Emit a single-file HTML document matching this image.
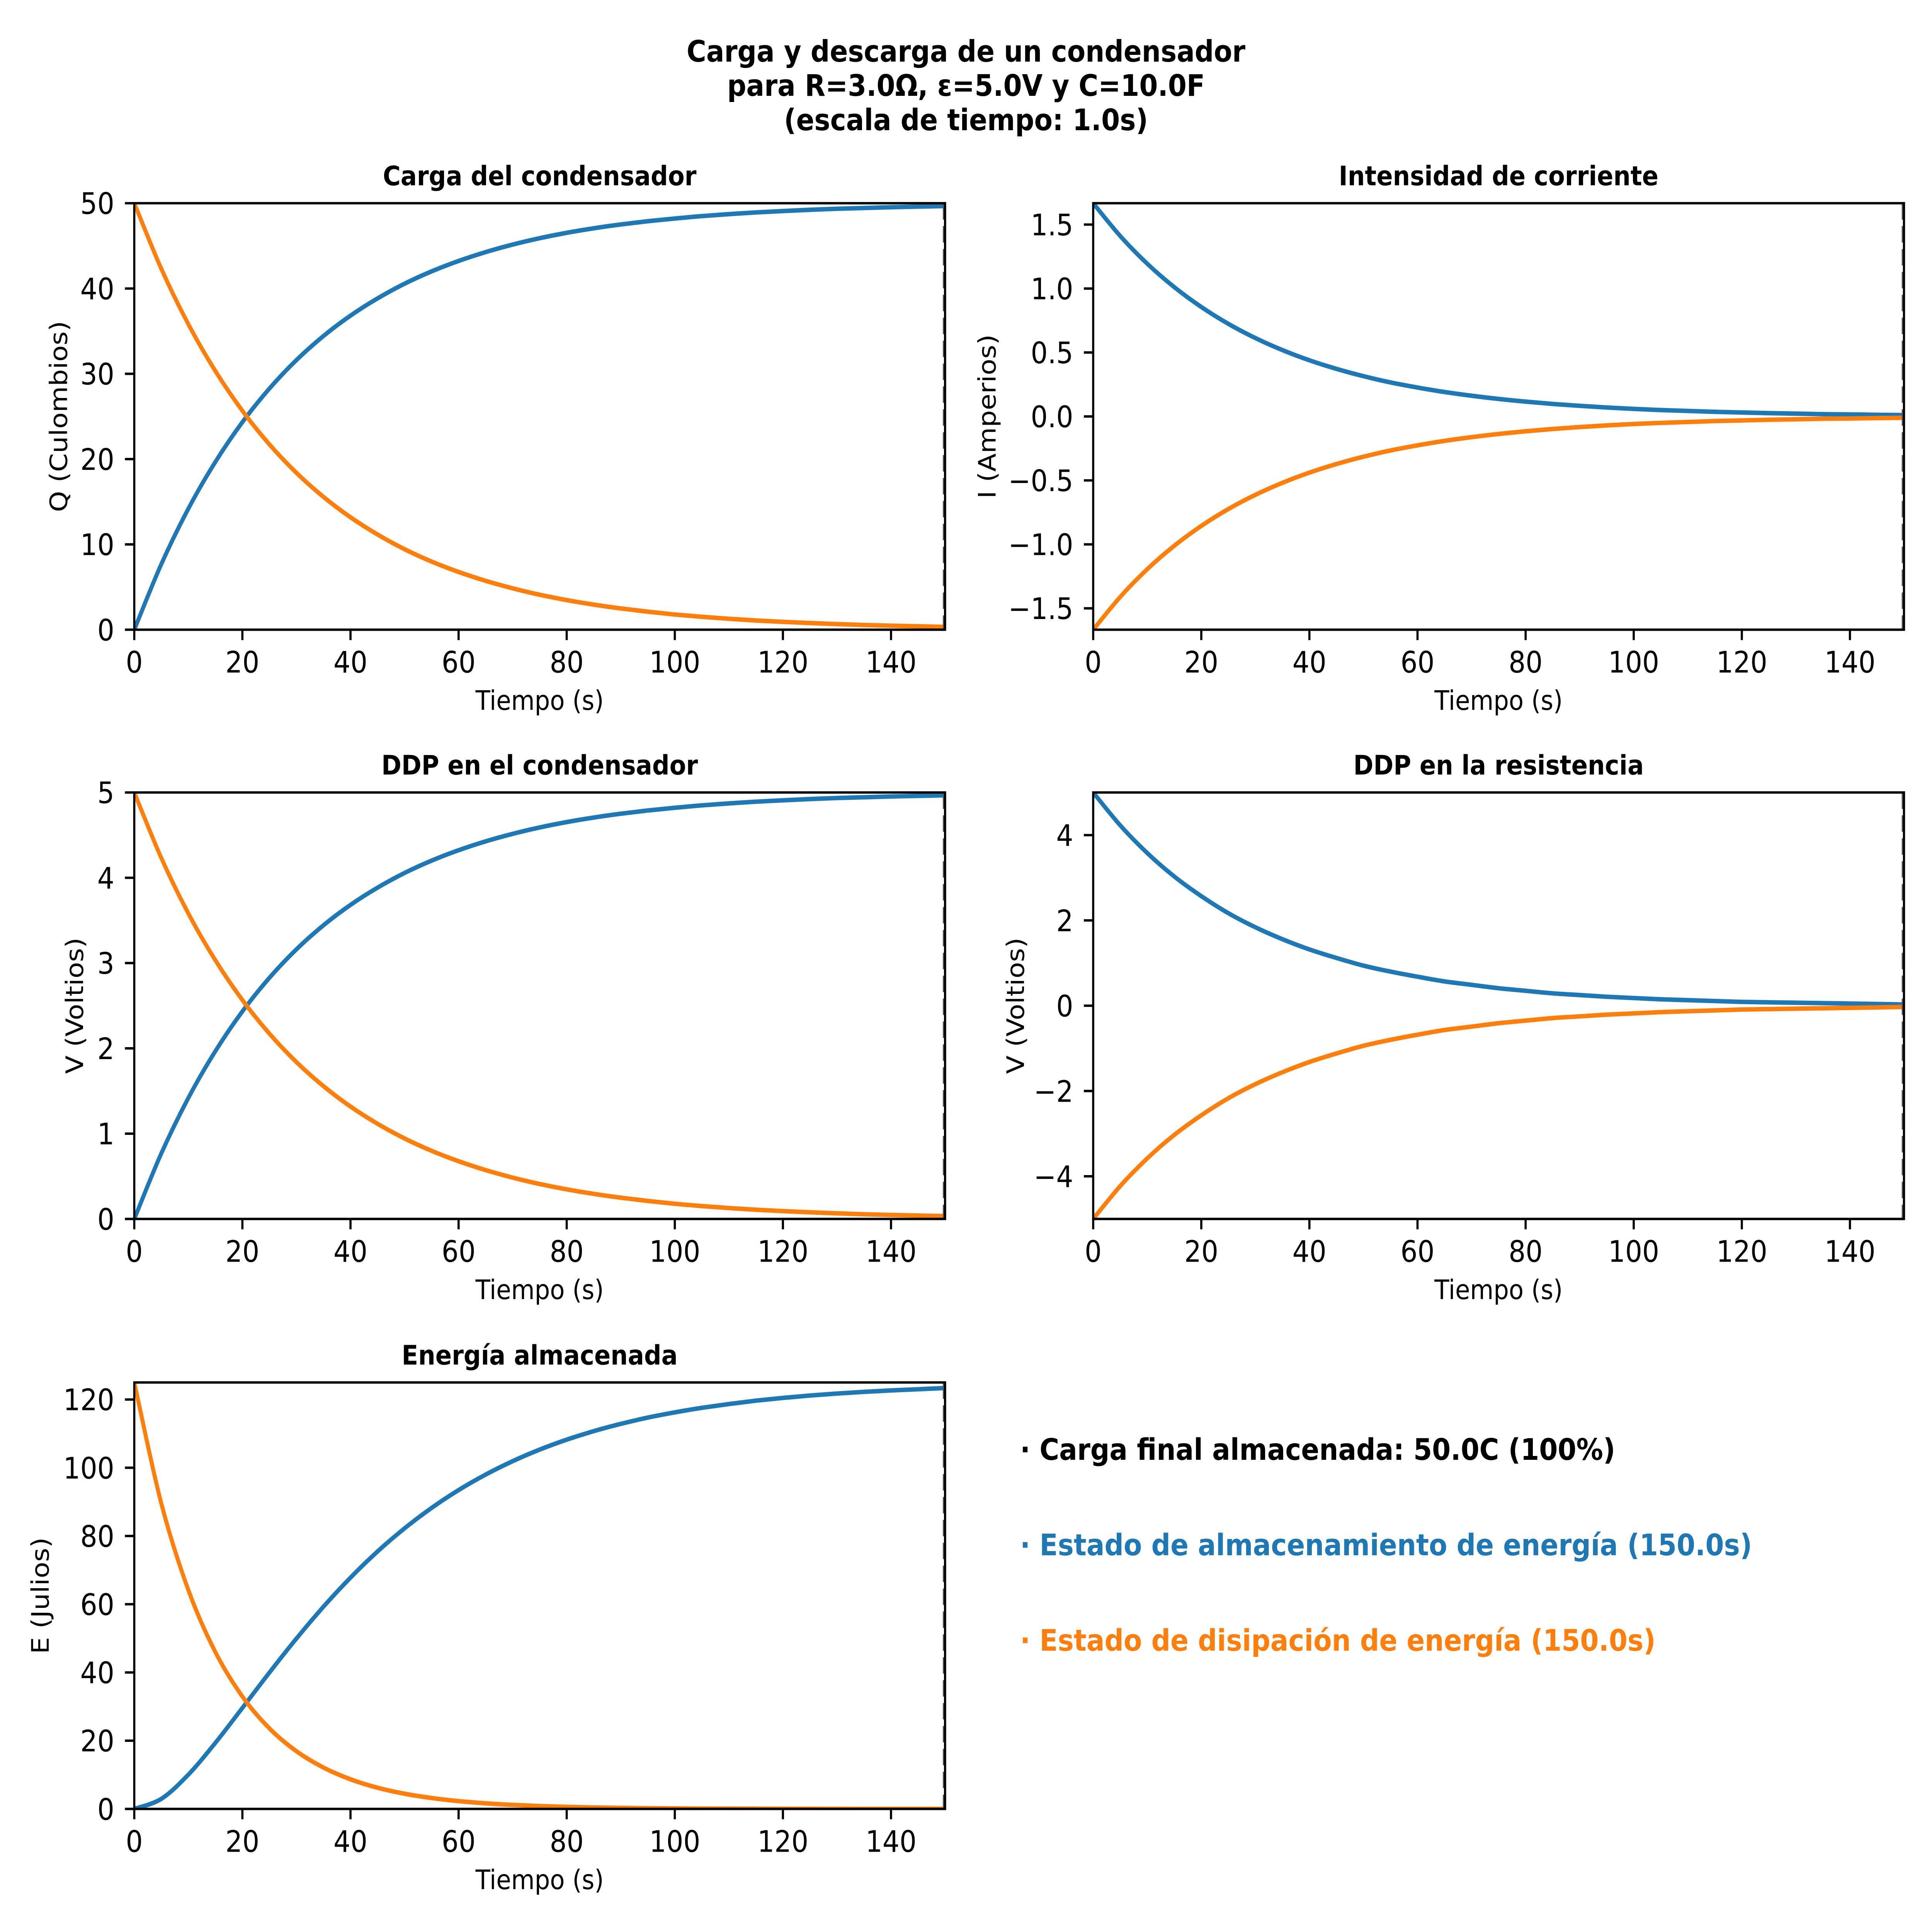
<!DOCTYPE html>
<html><head><meta charset="utf-8"><style>
html,body{margin:0;padding:0;background:#fff;width:100%;height:100%;overflow:hidden;}
svg{display:block;width:100vw;height:100vh;font-family:"DejaVu Sans","Liberation Sans",sans-serif;}
</style></head><body>
<svg id="fig" xmlns="http://www.w3.org/2000/svg" viewBox="0 0 6000 5400" preserveAspectRatio="none" overflow="hidden">
<rect width="6000" height="5400" fill="#fff"/>
<g font-weight="bold" font-size="83" text-anchor="middle">
<text x="3000" y="172">Carga y descarga de un condensador</text>
<text x="3000" y="268">para R=3.0Ω, ε=5.0V y C=10.0F</text>
<text x="3000" y="364">(escala de tiempo: 1.0s)</text>
</g>
<g font-weight="bold" font-size="83">
<text x="3168" y="4080" fill="#000">· Carga final almacenada: 50.0C (100%)</text>
<text x="3168" y="4347" fill="#1f77b4">· Estado de almacenamiento de energía (150.0s)</text>
<text x="3168" y="4614" fill="#ff7f0e">· Estado de disipación de energía (150.0s)</text>
</g>
<g id="plots"></g>
</svg>
<script>
// Shared time samples (s)
const times = [0,5,10,15,20,25,30,35,40,45,50,55,60,65,70,75,80,85,90,95,100,105,110,115,120,125,130,135,140,145,149.5];
const xTicks = [0,20,40,60,80,100,120,140];
// Charge (C)
const qCharge = [0,7.68,14.18,19.67,24.33,28.27,31.61,34.43,36.82,38.84,40.56,42.01,43.23,44.27,45.15,45.90,46.53,47.06,47.51,47.89,48.21,48.49,48.72,48.92,49.08,49.23,49.35,49.44,49.53,49.60,49.66];
const qDischarge = [50,42.32,35.82,30.33,25.67,21.73,18.39,15.57,13.18,11.16,9.44,7.99,6.77,5.73,4.85,4.10,3.47,2.94,2.49,2.11,1.78,1.51,1.28,1.08,0.92,0.78,0.66,0.55,0.47,0.40,0.34];
const qTicks = [0,10,20,30,40,50];
// Current (A)
const iCharge = [1.667,1.411,1.194,1.011,0.856,0.724,0.613,0.519,0.439,0.372,0.315,0.266,0.226,0.191,0.162,0.137,0.116,0.098,0.083,0.070,0.059,0.050,0.043,0.036,0.031,0.026,0.022,0.018,0.016,0.013,0.011];
const iDischarge = [-1.667,-1.411,-1.194,-1.011,-0.856,-0.724,-0.613,-0.519,-0.439,-0.372,-0.315,-0.266,-0.226,-0.191,-0.162,-0.137,-0.116,-0.098,-0.083,-0.070,-0.059,-0.050,-0.043,-0.036,-0.031,-0.026,-0.022,-0.018,-0.016,-0.013,-0.011];
const iTicks = [-1.5,-1.0,-0.5,0.0,0.5,1.0,1.5];
// Capacitor voltage (V)
const vcCharge = [0,0.768,1.418,1.967,2.433,2.827,3.161,3.443,3.682,3.884,4.056,4.201,4.323,4.427,4.515,4.590,4.653,4.706,4.751,4.789,4.821,4.849,4.872,4.892,4.908,4.923,4.935,4.944,4.953,4.960,4.966];
const vcDischarge = [5,4.232,3.582,3.033,2.567,2.173,1.839,1.557,1.318,1.116,0.944,0.799,0.677,0.573,0.485,0.410,0.347,0.294,0.249,0.211,0.178,0.151,0.128,0.108,0.092,0.078,0.066,0.055,0.047,0.040,0.034];
const vcTicks = [0,1,2,3,4,5];
// Resistor voltage (V)
const vrCharge = [5,4.23,3.58,3.03,2.57,2.17,1.84,1.56,1.32,1.12,0.94,0.80,0.68,0.57,0.49,0.41,0.35,0.29,0.25,0.21,0.18,0.15,0.13,0.11,0.09,0.08,0.07,0.06,0.05,0.04,0.03];
const vrDischarge = [-5,-4.23,-3.58,-3.03,-2.57,-2.17,-1.84,-1.56,-1.32,-1.12,-0.94,-0.80,-0.68,-0.57,-0.49,-0.41,-0.35,-0.29,-0.25,-0.21,-0.18,-0.15,-0.13,-0.11,-0.09,-0.08,-0.07,-0.06,-0.05,-0.04,-0.03];
const vrTicks = [-4,-2,0,2,4];
// Energy (J)
const eCharge = [0,2.95,10.05,19.36,29.60,39.96,49.94,59.27,67.79,75.45,82.24,88.22,93.46,97.99,101.93,105.32,108.23,110.73,112.86,114.70,116.23,117.56,118.68,119.66,120.47,121.16,121.75,122.24,122.66,123.01,123.33];
const eDischarge = [125,89.57,64.17,45.98,32.95,23.61,16.92,12.12,8.69,6.22,4.46,3.20,2.29,1.64,1.18,0.84,0.60,0.43,0.31,0.22,0.16,0.11,0.08,0.06,0.04,0.03,0.02,0.015,0.011,0.008,0.006];
const eTicks = [0,20,40,60,80,100,120];

const NS = "http://www.w3.org/2000/svg";
const root = document.getElementById('plots');
function mk(tag, attrs, parent){
  const e = document.createElementNS(NS, tag);
  for (const k in attrs) e.setAttribute(k, attrs[k]);
  parent.appendChild(e);
  return e;
}
function pathFrom(px, py){
  let d = 'M' + px[0].toFixed(1) + ',' + py[0].toFixed(1);
  for (let i = 0; i < px.length - 1; i++){
    const i0 = Math.max(0, i-1), i3 = Math.min(px.length-1, i+2);
    const c1x = px[i] + (px[i+1]-px[i0])/6, c1y = py[i] + (py[i+1]-py[i0])/6;
    const c2x = px[i+1] - (px[i3]-px[i])/6, c2y = py[i+1] - (py[i3]-py[i])/6;
    d += ' C' + c1x.toFixed(1)+','+c1y.toFixed(1)+' '+c2x.toFixed(1)+','+c2y.toFixed(1)+' '+px[i+1].toFixed(1)+','+py[i+1].toFixed(1);
  }
  return d;
}
function fmt(v, dec){ const s = v.toFixed(dec); return s.startsWith('-') ? '\u2212' + s.slice(1) : s; }

function plot(cfg){
  const L = cfg.x, T = cfg.y, W = 2518, H = 1192;
  const xmin = 0, xmax = 150, ymin = cfg.ymin, ymax = cfg.ymax;
  const xs = v => L + (v - xmin) / (xmax - xmin) * W;
  const ys = v => T + H - (v - ymin) / (ymax - ymin) * H;
  const g = mk('g', {}, root);
  
  
  const t = mk('text', {x: L + W/2, y: T - 50, 'text-anchor':'middle', 'font-size':75, 'font-weight':'bold'}, g);
  t.textContent = cfg.title;
  
  
  const cid = 'clip-' + cfg.name;
  const cp = mk('clipPath', {id: cid}, g);
  mk('rect', {x: L, y: T, width: W, height: H}, cp);
  const series = [[cfg.charge, '#1f77b4', 'charge-line'], [cfg.discharge, '#ff7f0e', 'discharge-line']];
  series.forEach(s => {
    const p = mk('path', {d: pathFrom(times.map(xs), s[0].map(ys)), fill:'none', stroke: s[1], 'stroke-width': 12.5, 'stroke-linejoin':'round', 'stroke-linecap':'square', 'clip-path':'url(#'+cid+')'}, g);
    
    
  });
  const dl = mk('line', {x1: xs(149.7), x2: xs(149.7), y1: T, y2: T+H, stroke:'#555', 'stroke-width':4, 'stroke-dasharray':'46 18'}, g);
  
  
  const fr = mk('rect', {x: L, y: T, width: W, height: H, fill:'none', stroke:'#000', 'stroke-width':6.7}, g);
  
  
  xTicks.forEach(v => {
    const X = xs(v);
    mk('line', {x1:X, x2:X, y1:T+H, y2:T+H+29, stroke:'#000', 'stroke-width':6.7}, g);
    const tx = mk('text', {x:X, y:T+H+120, 'text-anchor':'middle', 'font-size':83}, g);
    tx.textContent = String(v);
    
    
  });
  cfg.ticks.forEach(v => {
    const Y = ys(v);
    mk('line', {x1:L-29, x2:L, y1:Y, y2:Y, stroke:'#000', 'stroke-width':6.7}, g);
    const ty = mk('text', {x:L-62, y:Y+30, 'text-anchor':'end', 'font-size':83}, g);
    ty.textContent = fmt(v, cfg.dec);
    
    
  });
  const xl = mk('text', {x: L + W/2, y: T+H+224, 'text-anchor':'middle', 'font-size':75}, g);
  xl.textContent = 'Tiempo (s)';
  
  
  const yx = L - cfg.ylOff;
  const yl = mk('text', {x: yx, y: T + H/2, 'text-anchor':'middle', 'font-size':75, transform:'rotate(-90 '+yx+' '+(T+H/2)+')', dy: 27}, g);
  yl.textContent = cfg.ylabel;
  
  
}

plot({name:'charge-plot', title:'Carga del condensador', x:417, y:568, ymin:0, ymax:50, ticks:qTicks, dec:0, charge:qCharge, discharge:qDischarge, ylabel:'Q (Culombios)', ylOff:236});
plot({name:'current-plot', title:'Intensidad de corriente', x:3395, y:568, ymin:-1.667, ymax:1.667, ticks:iTicks, dec:1, charge:iCharge, discharge:iDischarge, ylabel:'I (Amperios)', ylOff:330});
plot({name:'capacitor-voltage-plot', title:'DDP en el condensador', x:417, y:2215, ymin:0, ymax:5, ticks:vcTicks, dec:0, charge:vcCharge, discharge:vcDischarge, ylabel:'V (Voltios)', ylOff:186});
plot({name:'resistor-voltage-plot', title:'DDP en la resistencia', x:3395, y:2215, ymin:-5, ymax:5, ticks:vrTicks, dec:0, charge:vrCharge, discharge:vrDischarge, ylabel:'V (Voltios)', ylOff:242});
plot({name:'energy-plot', title:'Energía almacenada', x:417, y:3864, ymin:0, ymax:125, ticks:eTicks, dec:0, charge:eCharge, discharge:eDischarge, ylabel:'E (Julios)', ylOff:293});
</script>
</body></html>
